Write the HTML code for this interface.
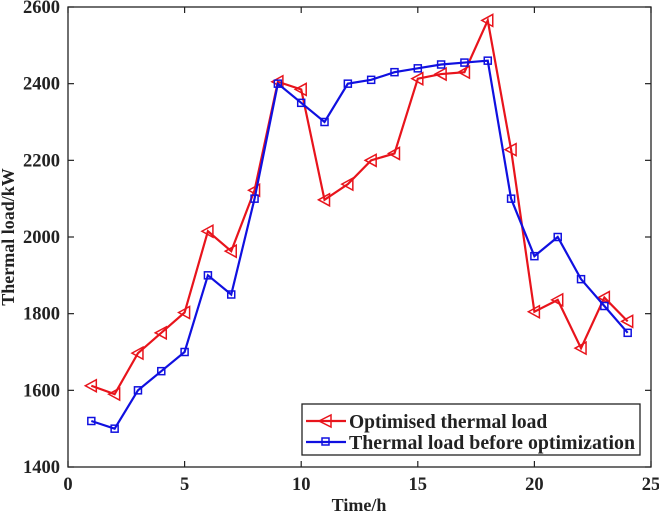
<!DOCTYPE html>
<html><head><meta charset="utf-8"><style>
body{margin:0;background:#fff}
text{font-family:"Liberation Serif",serif;font-weight:bold;fill:#222}
</style></head><body>
<svg width="659" height="516" viewBox="0 0 659 516" xmlns="http://www.w3.org/2000/svg">
<g id="marks"></g>
<rect x="68" y="7" width="583" height="460" fill="none" stroke="#222" stroke-width="1.3"/>
<g id="axes"></g>
<text x="359" y="511" font-size="18" text-anchor="middle">Time/h</text>
<text transform="translate(14,237) rotate(-90)" font-size="18" text-anchor="middle">Thermal load/kW</text>
<g>
<rect x="302" y="404" width="338" height="51" fill="#fff" stroke="#222" stroke-width="1.3"/>
<g>
<line x1="306" y1="421" x2="346" y2="421" stroke="#e8141c" stroke-width="2.2"/>
<polygon points="319,421 331,415 331,427" fill="none" stroke="#e8141c" stroke-width="1.5"/>
<text x="349" y="428" font-size="19.5">Optimised thermal load</text></g>
<g>
<line x1="306" y1="442" x2="346" y2="442" stroke="#1010e0" stroke-width="2.2"/>
<rect x="322" y="438" width="7" height="7" fill="none" stroke="#1010e0" stroke-width="1.5"/>
<text x="349" y="449" font-size="19.5" textLength="286" lengthAdjust="spacingAndGlyphs">Thermal load before optimization</text></g>
</g>
</svg>
<script>
const hours=[1,2,3,4,5,6,7,8,9,10,11,12,13,14,15,16,17,18,19,20,21,22,23,24];
const optimised=[1612,1590,1697,1750,1803,2015,1963,2122,2405,2385,2097,2138,2200,2218,2413,2425,2430,2565,2228,1805,1836,1710,1842,1780];
const before=[1520,1500,1600,1650,1700,1900,1850,2100,2400,2350,2300,2400,2410,2430,2440,2450,2455,2460,2100,1950,2000,1890,1820,1750];
const xTicks=[0,5,10,15,20,25];
const yTicks=[1400,1600,1800,2000,2200,2400,2600];
const NS="http://www.w3.org/2000/svg";
const X=v=>68+v/25*583, Y=v=>467-(v-1400)/1200*460;
const axes=document.getElementById('axes'), marks=document.getElementById('marks');
function mk(tag,attrs,parent){const e=document.createElementNS(NS,tag);for(const k in attrs)e.setAttribute(k,attrs[k]);parent.appendChild(e);return e;}
xTicks.forEach(t=>{
  mk('line',{x1:X(t),x2:X(t),y1:467,y2:461,stroke:'#222','stroke-width':1.2},axes);
  mk('line',{x1:X(t),x2:X(t),y1:7,y2:13,stroke:'#222','stroke-width':1.2},axes);
  const tx=mk('text',{x:X(t),y:490,'font-size':18.5,'text-anchor':'middle'},axes);tx.textContent=t;
  
  
});
yTicks.forEach(t=>{
  mk('line',{x1:68,x2:74,y1:Y(t),y2:Y(t),stroke:'#222','stroke-width':1.2},axes);
  mk('line',{x1:651,x2:645,y1:Y(t),y2:Y(t),stroke:'#222','stroke-width':1.2},axes);
  const tx=mk('text',{x:60,y:Y(t)+6,'font-size':18.5,'text-anchor':'end'},axes);tx.textContent=t;
  
  
});
function series(vals,color,kind,name){
  const g=mk('g',{},marks);
  
  
  mk('polyline',{points:vals.map((v,i)=>X(hours[i])+','+Y(v)).join(' '),fill:'none',stroke:color,'stroke-width':2.2},g);
  vals.forEach((v,i)=>{
    const x=X(hours[i]),y=Y(v);let m;
    if(kind==='tri') m=mk('polygon',{points:`${x-6},${y} ${x+5},${y-6} ${x+5},${y+6}`,fill:'none',stroke:color,'stroke-width':1.5},g);
    else m=mk('rect',{x:x-3.5,y:y-3.5,width:7,height:7,fill:'none',stroke:color,'stroke-width':1.5},g);
    
    
  });
}
series(optimised,'#e8141c','tri','series-optimised');
series(before,'#1010e0','sq','series-before');
</script>
</body></html>
